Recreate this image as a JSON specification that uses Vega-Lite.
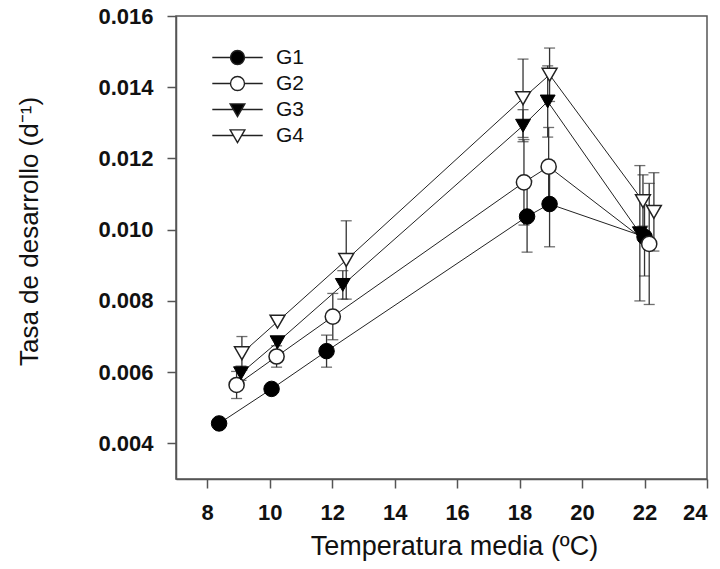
{
  "$schema": "https://vega.github.io/schema/vega-lite/v6.json",
  "width": 531,
  "height": 463,
  "autosize": "none",
  "padding": {"left": 176, "top": 16, "right": 13, "bottom": 90},
  "background": "white",
  "config": {
    "font": "Liberation Sans",
    "view": {"stroke": "#555", "strokeWidth": 1.5},
    "axis": {
      "domainColor": "#555",
      "domainWidth": 1.5,
      "tickColor": "#555",
      "tickWidth": 1.5,
      "tickSize": 9,
      "grid": false,
      "labelFont": "Liberation Sans",
      "labelFontWeight": "bold",
      "labelFontSize": 22,
      "labelColor": "#111",
      "titleFont": "Liberation Sans",
      "titleFontWeight": "normal",
      "titleFontSize": 26,
      "titleColor": "#111"
    }
  },
  "data": {
    "values": [
      {"g": "G1", "t": 8.38, "r": 0.00456},
      {"g": "G1", "t": 10.06, "r": 0.00553},
      {"g": "G1", "t": 11.82, "r": 0.00659, "lo": 0.00614, "hi": 0.00704},
      {"g": "G1", "t": 18.24, "r": 0.01037, "lo": 0.00937, "hi": 0.01137},
      {"g": "G1", "t": 18.96, "r": 0.01072, "lo": 0.00952, "hi": 0.01192},
      {"g": "G1", "t": 22.0, "r": 0.0098, "lo": 0.0087, "hi": 0.0109},
      {"g": "G2", "t": 8.94, "r": 0.00564, "lo": 0.00526, "hi": 0.00602},
      {"g": "G2", "t": 10.22, "r": 0.00644, "lo": 0.00614, "hi": 0.00674},
      {"g": "G2", "t": 12.02, "r": 0.00756, "lo": 0.00691, "hi": 0.00821},
      {"g": "G2", "t": 18.14, "r": 0.01133, "lo": 0.01013, "hi": 0.01253},
      {"g": "G2", "t": 18.93, "r": 0.01177, "lo": 0.01067, "hi": 0.01287},
      {"g": "G2", "t": 22.15, "r": 0.0096, "lo": 0.0079, "hi": 0.0113},
      {"g": "G3", "t": 9.08, "r": 0.00597, "lo": 0.00577, "hi": 0.00617},
      {"g": "G3", "t": 10.25, "r": 0.00684},
      {"g": "G3", "t": 12.34, "r": 0.00845, "lo": 0.00805, "hi": 0.00885},
      {"g": "G3", "t": 18.11, "r": 0.01292, "lo": 0.01247, "hi": 0.01337},
      {"g": "G3", "t": 18.9, "r": 0.0136, "lo": 0.0126, "hi": 0.0146},
      {"g": "G3", "t": 21.85, "r": 0.0099, "lo": 0.008, "hi": 0.0118},
      {"g": "G4", "t": 9.11, "r": 0.00653, "lo": 0.00606, "hi": 0.007},
      {"g": "G4", "t": 10.25, "r": 0.00742},
      {"g": "G4", "t": 12.45, "r": 0.00915, "lo": 0.00805, "hi": 0.01025},
      {"g": "G4", "t": 18.11, "r": 0.01369, "lo": 0.01259, "hi": 0.01479},
      {"g": "G4", "t": 18.96, "r": 0.01435, "lo": 0.0136, "hi": 0.0151},
      {"g": "G4", "t": 21.95, "r": 0.0108, "lo": 0.0101, "hi": 0.01154},
      {"g": "G4", "t": 22.3, "r": 0.0105, "lo": 0.0094, "hi": 0.0116}
    ]
  },
  "encoding": {
    "x": {
      "field": "t",
      "type": "quantitative",
      "scale": {"domain": [7, 24], "nice": false, "zero": false},
      "axis": {"values": [8, 10, 12, 14, 16, 18, 20, 22, 24], "title": "Temperatura media (ºC)", "titleFontSize": 27, "labelPadding": 14, "titleX": 278, "titlePadding": 10}
    }
  },
  "layer": [
    {
      "mark": {"type": "line", "color": "#222", "strokeWidth": 1},
      "encoding": {
        "y": {
          "field": "r",
          "type": "quantitative",
          "scale": {"domain": [0.003, 0.016], "nice": false, "zero": false},
          "axis": {"values": [0.004, 0.006, 0.008, 0.01, 0.012, 0.014, 0.016], "format": ".3f", "title": "Tasa de desarrollo (d⁻¹)", "labelPadding": 14, "titlePadding": 55, "titleY": 215}
        },
        "detail": {"field": "g"}
      }
    },
    {
      "mark": {"type": "rule", "color": "#333", "strokeWidth": 1.3},
      "encoding": {
        "y": {"field": "lo", "type": "quantitative"},
        "y2": {"field": "hi"},
        "detail": {"field": "g"}
      }
    },
    {
      "mark": {"type": "tick", "orient": "horizontal", "color": "#333", "size": 11, "thickness": 1.3},
      "encoding": {"y": {"field": "lo", "type": "quantitative"}}
    },
    {
      "mark": {"type": "tick", "orient": "horizontal", "color": "#333", "size": 11, "thickness": 1.3},
      "encoding": {"y": {"field": "hi", "type": "quantitative"}}
    },
    {
      "transform": [{"filter": "datum.g === 'G1'"}],
      "mark": {"type": "point", "shape": "circle", "filled": true, "fill": "black", "stroke": "black", "strokeWidth": 1, "size": 240, "opacity": 1},
      "encoding": {"y": {"field": "r", "type": "quantitative"}}
    },
    {
      "transform": [{"filter": "datum.g === 'G2'"}],
      "mark": {"type": "point", "shape": "circle", "filled": true, "fill": "white", "stroke": "#222", "strokeWidth": 1.5, "size": 230, "opacity": 1},
      "encoding": {"y": {"field": "r", "type": "quantitative"}}
    },
    {
      "transform": [{"filter": "datum.g === 'G3'"}],
      "mark": {"type": "point", "shape": "triangle-down", "filled": true, "fill": "black", "stroke": "black", "strokeWidth": 1, "size": 220, "opacity": 1},
      "encoding": {"y": {"field": "r", "type": "quantitative"}}
    },
    {
      "transform": [{"filter": "datum.g === 'G4'"}],
      "mark": {"type": "point", "shape": "triangle-down", "filled": true, "fill": "white", "stroke": "#222", "strokeWidth": 1.5, "size": 220, "opacity": 1},
      "encoding": {"y": {"field": "r", "type": "quantitative"}}
    },
    {
      "mark": {"type": "point", "filled": true, "opacity": 0, "stroke": "#222", "strokeWidth": 1.4},
      "encoding": {
        "y": {"field": "r", "type": "quantitative"},
        "shape": {
          "field": "g",
          "type": "nominal",
          "scale": {
            "domain": ["G1", "G2", "G3", "G4"],
            "range": [
              "M-3.6,0H-1M1,0H3.6M-1,0A1,1 0 1,0 1,0A1,1 0 1,0 -1,0Z",
              "M-3.6,0H-1M1,0H3.6M-1,0A1,1 0 1,0 1,0A1,1 0 1,0 -1,0Z",
              "M-3.6,0H-0.55M0.55,0H3.6M-1.05,-0.8H1.05L0,1Z",
              "M-3.6,0H-0.55M0.55,0H3.6M-1.05,-0.8H1.05L0,1Z"
            ]
          },
          "legend": {
            "title": null,
            "orient": "none",
            "legendX": 51,
            "legendY": 31,
            "padding": 0,
            "symbolSize": 196,
            "symbolOpacity": 1,
            "symbolStrokeColor": "#222",
            "symbolStrokeWidth": 1.4,
            "labelFontSize": 21,
            "labelFont": "Liberation Sans",
            "labelColor": "#111",
            "labelOffset": 28,
            "rowPadding": 4,
            "encode": {"symbols": {"update": {"stroke": {"value": "#222"}, "strokeWidth": {"value": 1.4}, "opacity": {"value": 1}}}}
          }
        },
        "fill": {
          "field": "g",
          "type": "nominal",
          "scale": {"domain": ["G1", "G2", "G3", "G4"], "range": ["black", "white", "black", "white"]},
          "legend": {
            "title": null,
            "orient": "none",
            "legendX": 51,
            "legendY": 31,
            "padding": 0,
            "symbolSize": 196,
            "symbolOpacity": 1,
            "symbolStrokeColor": "#222",
            "symbolStrokeWidth": 1.4,
            "labelFontSize": 21,
            "labelFont": "Liberation Sans",
            "labelColor": "#111",
            "labelOffset": 28,
            "rowPadding": 4,
            "encode": {"symbols": {"update": {"stroke": {"value": "#222"}, "strokeWidth": {"value": 1.4}, "opacity": {"value": 1}}}}
          }
        }
      }
    }
  ]
}
